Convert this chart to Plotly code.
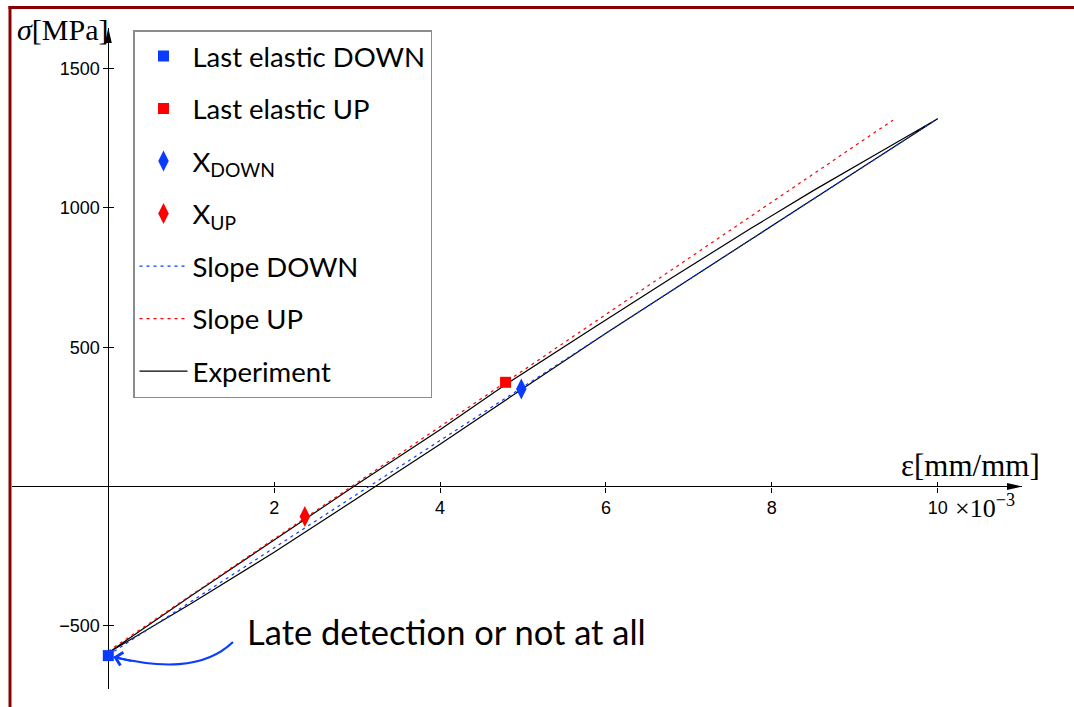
import plotly.graph_objects as go

# ---------------- data ----------------
# Experiment: loading branch (UP) followed by unloading branch (DOWN)
exp_strain = [0, 0.5, 1, 2, 3, 4, 4.8, 5.8, 6.8, 7.74, 8.5, 9.3, 10,
              9, 8, 7, 6, 5, 4, 3.22, 2, 1, 0.4, 0]
exp_stress = [-597, -495, -392, -192, 8, 204, 368, 560, 750, 925, 1062, 1200, 1320,
              1128, 935, 743, 550, 352, 152, 0, -236, -420, -525, -597]

slope_up_strain = [0, 9.46]
slope_up_stress = [-591, 1315]
slope_down_strain = [0, 10]
slope_down_stress = [-605, 1320]

last_elastic_down_strain = [0]
last_elastic_down_stress = [-607]
last_elastic_up_strain = [4.79]
last_elastic_up_stress = [374]
x_down_strain = [4.98]
x_down_stress = [350]
x_up_strain = [2.37]
x_up_stress = [-108]

x_tickvals = [2, 4, 6, 8, 10]
x_ticktext = ["2", "4", "6", "8", "10"]
y_tickvals = [-500, 500, 1000, 1500]
y_ticktext = ["\u2212500", "500", "1000", "1500"]

# ---------------- geometry ----------------
W, H = 1074, 707
ML, MR, MT, MB = 12, 52, 28, 18
X_RANGE = [-1.161, 11.017]
Y_RANGE = [-726.8, 1645.7]
pw, ph = W - ML - MR, H - MT - MB


def px_x(px):
    return (px - ML) / pw


def px_y(py):
    return (H - MB - py) / ph


x0_frac = (0 - X_RANGE[0]) / (X_RANGE[1] - X_RANGE[0])
y0_frac = (0 - Y_RANGE[0]) / (Y_RANGE[1] - Y_RANGE[0])

BLUE = "#0a3cff"
RED = "#ff0000"
SANS = "Lato, 'Open Sans', sans-serif"
legend_font = dict(family=SANS, size=27.5, color="black")

fig = go.Figure()

fig.add_trace(go.Scatter(
    x=last_elastic_down_strain, y=last_elastic_down_stress, mode="markers",
    name="Last elastic DOWN", legendgroup="a",
    marker=dict(symbol="square", size=11, color=BLUE), zorder=3))
fig.add_trace(go.Scatter(
    x=last_elastic_up_strain, y=last_elastic_up_stress, mode="markers",
    name="Last elastic UP", legendgroup="b",
    marker=dict(symbol="square", size=11, color=RED), zorder=3))
fig.add_trace(go.Scatter(
    x=x_down_strain, y=x_down_stress, mode="markers",
    name="X<sub>DOWN</sub>", legendgroup="c",
    marker=dict(symbol="diamond-tall", size=15, color=BLUE), zorder=3))
fig.add_trace(go.Scatter(
    x=x_up_strain, y=x_up_stress, mode="markers",
    name="X<sub>UP</sub>", legendgroup="d",
    marker=dict(symbol="diamond-tall", size=15, color=RED), zorder=3))
fig.add_trace(go.Scatter(
    x=slope_down_strain, y=slope_down_stress, mode="lines",
    name="Slope DOWN", legendgroup="e",
    line=dict(color=BLUE, width=1.2, dash="3px,4px"), zorder=2))
fig.add_trace(go.Scatter(
    x=slope_up_strain, y=slope_up_stress, mode="lines",
    name="Slope UP", legendgroup="f",
    line=dict(color=RED, width=1.2, dash="3px,4px"), zorder=2))
fig.add_trace(go.Scatter(
    x=exp_strain, y=exp_stress, mode="lines",
    name="Experiment", legendgroup="g",
    line=dict(color="black", width=1.2), zorder=1))
# helper trace for the mirrored tick axes
fig.add_trace(go.Scatter(x=[None], y=[None], xaxis="x2", yaxis="y2",
                         showlegend=False, hoverinfo="skip"))

tickfont = dict(family="Liberation Sans, Arial, sans-serif", size=18, color="black")
common_x = dict(range=X_RANGE, showgrid=False, anchor="free", showline=False,
                position=y0_frac, tickvals=x_tickvals, ticktext=x_ticktext,
                ticklen=5, tickwidth=1, tickcolor="black", fixedrange=True,
                tickfont=tickfont, side="bottom")
common_y = dict(range=Y_RANGE, showgrid=False, anchor="free", showline=False,
                position=x0_frac, tickvals=y_tickvals, ticktext=y_ticktext,
                ticklen=5, tickwidth=1, tickcolor="black", fixedrange=True,
                tickfont=tickfont, side="left")

fig.update_layout(
    width=W, height=H,
    margin=dict(l=ML, r=MR, t=MT, b=MB),
    paper_bgcolor="white", plot_bgcolor="white",
    font=dict(family="Liberation Sans, Arial, sans-serif", size=18, color="black"),
    xaxis=dict(**common_x, ticks="outside", zeroline=True, zerolinecolor="black",
               zerolinewidth=1),
    yaxis=dict(**common_y, ticks="outside", zeroline=True, zerolinecolor="black",
               zerolinewidth=1),
    xaxis2=dict(**common_x, overlaying="x", ticks="inside", showticklabels=False,
                zeroline=False),
    yaxis2=dict(**common_y, overlaying="y", ticks="inside", showticklabels=False,
                zeroline=False),
    showlegend=True,
    legend=dict(x=px_x(133), y=px_y(30), xanchor="left", yanchor="top",
                bgcolor="white", bordercolor="#8c8c8c", borderwidth=1.5,
                font=legend_font, itemwidth=48, tracegroupgap=13.8,
                traceorder="grouped"),
)

# axis arrowheads
fig.add_shape(type="path", xref="x", yref="y", xsizemode="pixel", ysizemode="pixel",
              xanchor=X_RANGE[1], yanchor=0, path="M -15,-3.5 L 0,0 L -15,3.5 Z",
              fillcolor="black", line=dict(width=0))
fig.add_shape(type="path", xref="x", yref="y", xsizemode="pixel", ysizemode="pixel",
              xanchor=0, yanchor=Y_RANGE[1], path="M -3.5,-15 L 0,0 L 3.5,-15 Z",
              fillcolor="black", line=dict(width=0))

# page frame (dark red)
fig.add_shape(type="line", xref="paper", yref="paper", x0=px_x(10), x1=px_x(10),
              y0=px_y(6), y1=px_y(707), line=dict(color="#8b0000", width=3))
fig.add_shape(type="line", xref="paper", yref="paper", x0=px_x(8.5), x1=px_x(1074),
              y0=px_y(7.5), y1=px_y(7.5), line=dict(color="#8b0000", width=3))

# annotation curve with arrow
fig.add_shape(type="path", xref="x", yref="y",
              path="M 1.503,-558 C 1.15,-660 0.6,-650 0.07,-612",
              line=dict(color=BLUE, width=2.2))
fig.add_annotation(x=0.06, y=-612, ax=0.3, ay=-628, axref="x", ayref="y",
                   xref="x", yref="y", text="", showarrow=True, arrowhead=4,
                   arrowsize=1.3, arrowwidth=2, arrowcolor=BLUE)

fig.add_annotation(x=1.648, y=-522, xref="x", yref="y", xanchor="left",
                   yanchor="middle", showarrow=False,
                   text="Late detection or not at all",
                   font=dict(family=SANS, size=34.5, color="black"))

serif = "Liberation Serif, 'DejaVu Serif', serif"
fig.add_annotation(x=-1.125, y=1642, xref="x", yref="y", xanchor="left",
                   yanchor="middle", showarrow=False, text="<i>σ</i>[MPa]",
                   font=dict(family=serif, size=30, color="black"))
fig.add_annotation(x=10.40, y=77, xref="x", yref="y", xanchor="center",
                   yanchor="middle", showarrow=False, text="ε[mm/mm]",
                   font=dict(family=serif, size=31, color="black"))
fig.add_annotation(x=10.19, y=-70, xref="x", yref="y", xanchor="left",
                   yanchor="middle", showarrow=False, text="×10<sup>−3</sup>",
                   font=dict(family=serif, size=26, color="black"))

fig.write_html("out.html", include_plotlyjs=True, full_html=True,
               config={"displayModeBar": False},
               post_script="document.body.style.margin='0';document.body.style.overflow='hidden';")
